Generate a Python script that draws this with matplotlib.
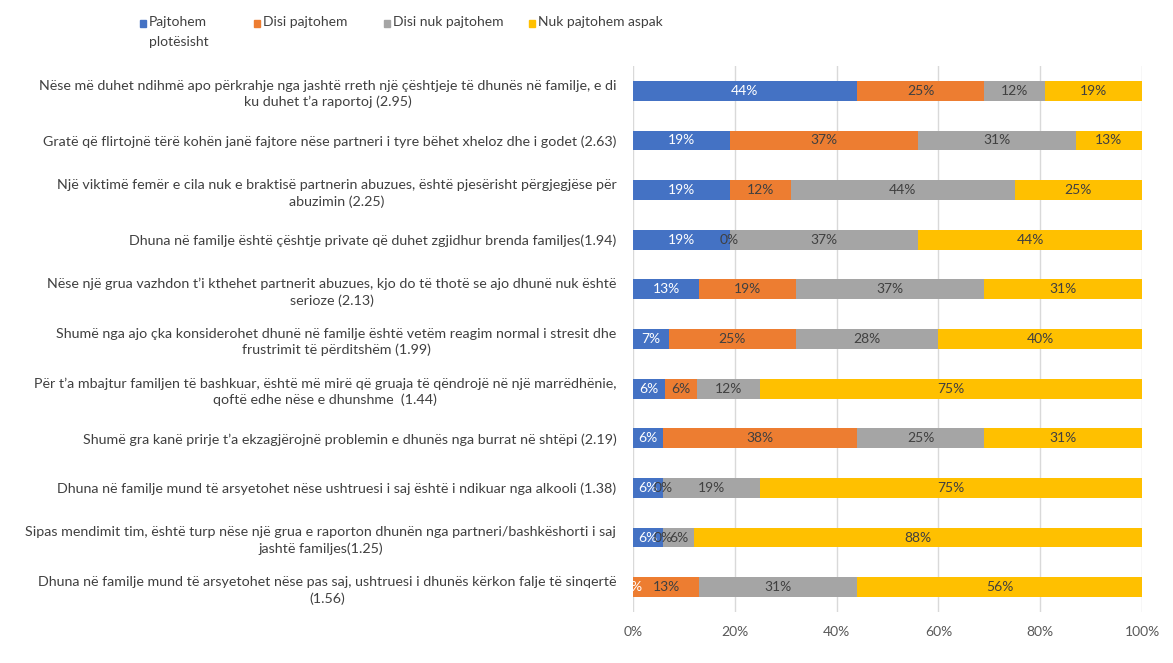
import matplotlib.pyplot as plt
import matplotlib.ticker as mtick
import numpy as np
from matplotlib.patches import Rectangle

plt.rcParams["font.family"] = ["Lato", "DejaVu Sans"]

statements = [
    "Nëse më duhet ndihmë apo përkrahje nga jashtë rreth një çështjeje të dhunës në familje, e di\nku duhet t’a raportoj (2.95)",
    "Gratë që flirtojnë tërë kohën janë fajtore nëse partneri i tyre bëhet xheloz dhe i godet (2.63)",
    "Një viktimë femër e cila nuk e braktisë partnerin abuzues, është pjesërisht përgjegjëse për\nabuzimin (2.25)",
    "Dhuna në familje është çështje private që duhet zgjidhur brenda familjes(1.94)",
    "Nëse një grua vazhdon t’i kthehet partnerit abuzues, kjo do të thotë se ajo dhunë nuk është\nserioze (2.13)",
    "Shumë nga ajo çka konsiderohet dhunë në familje është vetëm reagim normal i stresit dhe\nfrustrimit të përditshëm (1.99)",
    "Për t’a mbajtur familjen të bashkuar, është më mirë që gruaja të qëndrojë në një marrëdhënie,\nqoftë edhe nëse e dhunshme  (1.44)",
    "Shumë gra kanë prirje t’a ekzagjërojnë problemin e dhunës nga burrat në shtëpi (2.19)",
    "Dhuna në familje mund të arsyetohet nëse ushtruesi i saj është i ndikuar nga alkooli (1.38)",
    "Sipas mendimit tim, është turp nëse një grua e raporton dhunën nga partneri/bashkëshorti i saj\njashtë familjes(1.25)",
    "Dhuna në familje mund të arsyetohet nëse pas saj, ushtruesi i dhunës kërkon falje të sinqertë\n(1.56)",
]

series_names = ["Pajtohem\nplotësisht", "Disi pajtohem", "Disi nuk pajtohem", "Nuk pajtohem aspak"]
colors = ["#4472C4", "#ED7D31", "#A5A5A5", "#FFC000"]
label_colors = ["white", "#404040", "#404040", "#404040"]

agree_fully = [44, 19, 19, 19, 13, 7, 6.25, 6, 6, 6, 0]
agree_somewhat = [25, 37, 12, 0, 19, 25, 6.25, 38, 0, 0, 13]
disagree_somewhat = [12, 31, 44, 37, 37, 28, 12.5, 25, 19, 6, 31]
disagree_fully = [19, 13, 25, 44, 31, 40, 75, 31, 75, 88, 56]

data = [agree_fully, agree_somewhat, disagree_somewhat, disagree_fully]

fig = plt.figure(figsize=(11.73, 6.63), dpi=100)
ax = fig.add_axes([0.5396, 0.0769, 0.4340, 0.8236])

y = np.arange(len(statements))
left = np.zeros(len(statements))
for vals, name, col, lcol in zip(data, series_names, colors, label_colors):
    vals = np.array(vals, dtype=float)
    bars = ax.barh(y, vals, left=left, height=0.4, color=col, label=name, zorder=2)
    ax.bar_label(bars, labels=[f"{v:.0f}%" for v in vals], label_type="center",
                 color=lcol, fontsize=10, zorder=3)
    left += vals

ax.set_xlim(0, 100)
ax.set_ylim(len(statements) - 0.5, -0.5)
ax.set_xticks(np.arange(0, 101, 20))
ax.xaxis.set_major_formatter(mtick.PercentFormatter(xmax=100, decimals=0))
ax.set_yticks(y)
ax.set_yticklabels(statements, multialignment="center", fontsize=10.3, color="#404040",
                   linespacing=1.4)
ax.tick_params(axis="x", colors="#595959", labelsize=10, length=0, pad=10)
ax.tick_params(axis="y", length=0, pad=12)
ax.grid(axis="x", color="#D9D9D9", linewidth=1, zorder=0)
for s in ax.spines.values():
    s.set_visible(False)

# legend drawn by hand so the wrapped first entry hangs below its square
W, H = 1173, 663
legend_x = [140, 254, 384, 529]
for x0, name, col in zip(legend_x, series_names, colors):
    fig.patches.append(Rectangle((x0 / W, 1 - 27 / H), 6 / W, 7 / H,
                                 transform=fig.transFigure, color=col))
    fig.text((x0 + 9) / W, 1 - 16 / H, name, ha="left", va="top",
             fontsize=10, color="#404040", linespacing=1.75)

fig.savefig("out.png", dpi=100)
